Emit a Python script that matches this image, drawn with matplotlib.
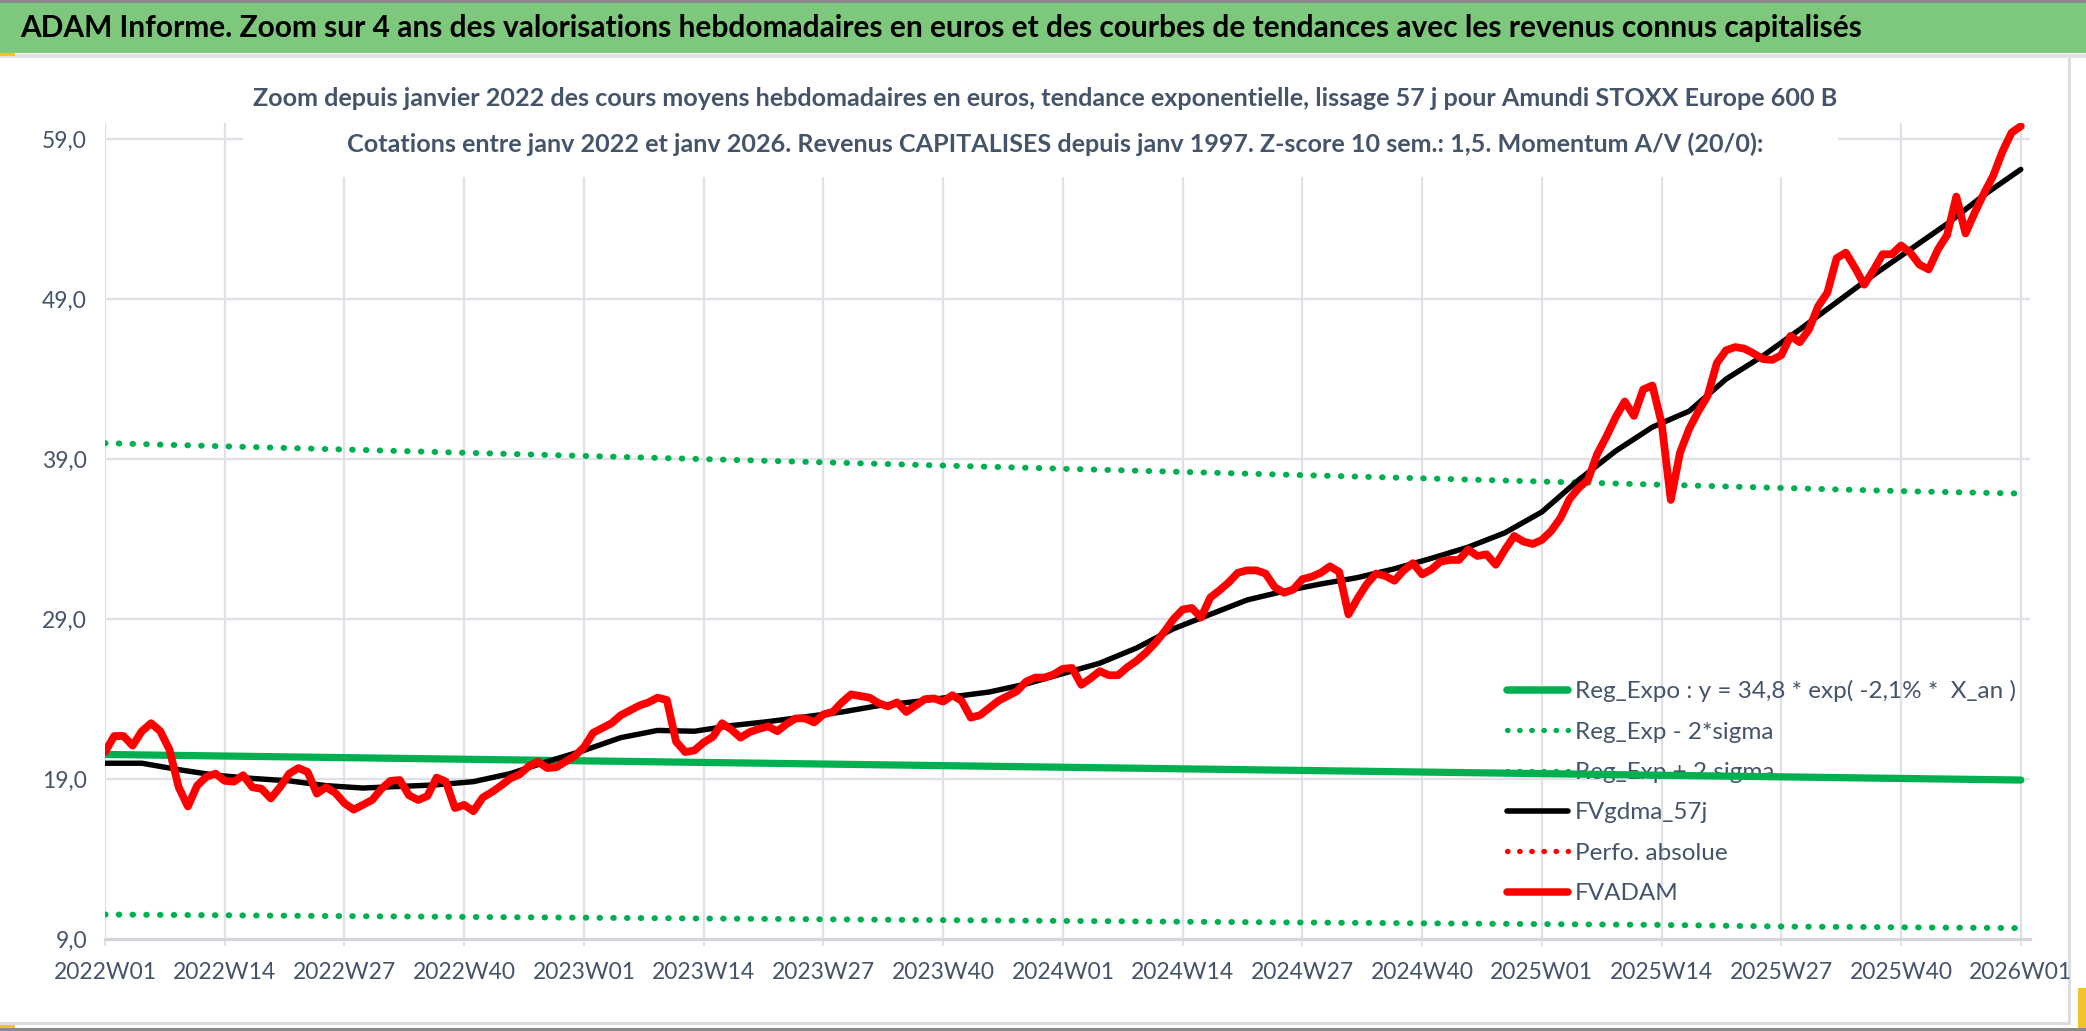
import matplotlib
matplotlib.use("Agg")
import matplotlib.pyplot as plt
from matplotlib.lines import Line2D
from matplotlib.patches import Rectangle
from matplotlib import font_manager as fm

# ---------------- data ----------------
tick_labels = ["2022W01", "2022W14", "2022W27", "2022W40", "2023W01", "2023W14",
               "2023W27", "2023W40", "2024W01", "2024W14", "2024W27", "2024W40",
               "2025W01", "2025W14", "2025W27", "2025W40", "2026W01"]
tick_weeks = [0, 13, 26, 39, 52, 65, 78, 91, 104, 117, 130, 143, 156, 169, 182, 195, 208]

y_ticks = [9, 19, 29, 39, 49, 59]

# FVADAM weekly values (2022W01 .. 2026W01)
fvadam = [
    20.7, 21.7, 21.7, 21.1, 22.0, 22.5, 22.0, 20.85, 18.5, 17.3,
    18.6, 19.15, 19.35, 18.9, 18.85, 19.25, 18.5, 18.4, 17.8, 18.5,
    19.35, 19.7, 19.45, 18.1, 18.5, 18.15, 17.5, 17.1, 17.4, 17.7,
    18.4, 18.9, 18.95, 18.0, 17.7, 17.95, 19.1, 18.85, 17.2, 17.4,
    17.0, 17.85, 18.2, 18.6, 19.05, 19.3, 19.8, 20.1, 19.7, 19.75,
    20.1, 20.45, 21.0, 21.9, 22.2, 22.5, 23.0, 23.3, 23.6, 23.8,
    24.1, 23.95, 21.35, 20.7, 20.8, 21.3, 21.65, 22.5, 22.1, 21.6,
    21.95, 22.15, 22.3, 22.0, 22.45, 22.8, 22.8, 22.55, 23.05, 23.2,
    23.8, 24.3, 24.2, 24.1, 23.75, 23.55, 23.8, 23.2, 23.6, 24.0,
    24.05, 23.85, 24.25, 23.9, 22.85, 23.0, 23.45, 23.9, 24.2, 24.5,
    25.1, 25.35, 25.35, 25.55, 25.9, 25.95, 24.9, 25.3, 25.75, 25.5,
    25.5, 26.0, 26.4, 26.9, 27.5, 28.2, 29.0, 29.6, 29.7, 29.1,
    30.35, 30.8, 31.3, 31.9, 32.05, 32.05, 31.85, 31.0, 30.65, 30.85,
    31.5, 31.65, 31.9, 32.3, 31.95, 29.3, 30.3, 31.2, 31.85, 31.7,
    31.4, 32.05, 32.5, 31.8, 32.1, 32.6, 32.7, 32.7, 33.35, 32.95,
    33.05, 32.4, 33.35, 34.2, 33.85, 33.7, 33.95, 34.5, 35.3, 36.5,
    37.2, 37.7, 39.3, 40.4, 41.6, 42.6, 41.7, 43.35, 43.6, 41.25,
    36.45, 39.4, 40.9, 42.0, 42.95, 45.0, 45.8, 46.0, 45.9, 45.6,
    45.25, 45.2, 45.5, 46.7, 46.3, 47.1, 48.55, 49.4, 51.55, 51.9,
    50.95, 49.9, 50.8, 51.8, 51.8, 52.35, 51.9, 51.15, 50.85, 52.1,
    53.0, 55.4, 53.1, 54.4, 55.6, 56.7, 58.2, 59.4, 59.8,
]
fvadam_weeks = list(range(len(fvadam)))

# FVgdma_57j (smoothed), read every 4 weeks
fvgdma_weeks = list(range(0, 209, 4))
fvgdma = [
    20.0, 20.0, 19.6, 19.25, 19.05, 18.9, 18.6, 18.45, 18.55, 18.65,
    18.85, 19.35, 20.1, 20.8, 21.6, 22.05, 22.0, 22.35, 22.6, 22.9,
    23.2, 23.6, 23.85, 24.15, 24.45, 24.95, 25.6, 26.25, 27.2, 28.4,
    29.3, 30.2, 30.75, 31.2, 31.6, 32.15, 32.8, 33.5, 34.4, 35.7,
    37.7, 39.5, 41.0, 42.0, 44.0, 45.45, 47.1, 48.8, 50.5, 52.1,
    53.7, 55.5, 57.1,
]

# Regression curves, read at the tick weeks
reg_weeks = tick_weeks
reg_expo = [20.55, 20.45, 20.35, 20.25, 20.15, 20.05, 19.95, 19.85, 19.75,
            19.65, 19.55, 19.45, 19.35, 19.25, 19.15, 19.05, 18.95]
reg_minus = [10.55, 10.5, 10.45, 10.4, 10.35, 10.3, 10.25, 10.2, 10.15,
             10.1, 10.05, 10.0, 9.95, 9.9, 9.8, 9.75, 9.7]
reg_plus = [40.0, 39.8, 39.6, 39.4, 39.2, 39.0, 38.8, 38.6, 38.4,
            38.2, 38.0, 37.8, 37.6, 37.4, 37.2, 37.0, 36.85]

legend_labels = ["Reg_Expo : y = 34,8 * exp( -2,1% *  X_an )",
                 "Reg_Exp - 2*sigma",
                 "Reg_Exp + 2 sigma",
                 "FVgdma_57j",
                 "Perfo. absolue",
                 "FVADAM"]

title = ("ADAM Informe. Zoom sur 4 ans des valorisations hebdomadaires en euros "
         "et des courbes de tendances avec les revenus connus capitalisés")
sub1 = ("Zoom depuis janvier 2022 des cours moyens hebdomadaires en euros, "
        "tendance exponentielle, lissage 57 j pour Amundi STOXX Europe 600 B")
sub2 = ("Cotations entre janv 2022 et janv 2026. Revenus CAPITALISES depuis "
        "janv 1997. Z-score 10 sem.: 1,5. Momentum A/V (20/0):")

# ---------------- style ----------------
names = {f.name for f in fm.fontManager.ttflist}
base = "Liberation Sans Narrow" if "Liberation Sans Narrow" in names else "Lato"
plt.rcParams["font.family"] = [base, "DejaVu Sans"]

GREEN = "#00B050"
RED = "#FF0000"
TXT = "#44546A"
GRID = "#DEE2E8"

W, H = 2086, 1031
fig = plt.figure(figsize=(W / 100, H / 100), dpi=100)
fig.patch.set_facecolor("white")


def fx(x):
    return x / W


def fy(y):
    return 1 - y / H


# decorations
fig.add_artist(Rectangle((0, fy(3)), 1, 3 / H, transform=fig.transFigure,
                         color="#8A8A8A", lw=0, zorder=0))
fig.add_artist(Rectangle((0, fy(53)), 1, 50 / H, transform=fig.transFigure,
                         color="#7DC87D", lw=0, zorder=0))
fig.add_artist(Rectangle((0, fy(58)), 1, 4 / H, transform=fig.transFigure,
                         color="#E2E4E8", lw=0, zorder=0))
fig.add_artist(Rectangle((0, fy(56)), 15 / W, 3 / H, transform=fig.transFigure,
                         color="#F2C12E", lw=0, zorder=1))
fig.add_artist(Rectangle((fx(2068), fy(1024)), 3 / W, (1024 - 58) / H,
                         transform=fig.transFigure, color="#DADCE0", lw=0, zorder=0))
fig.add_artist(Rectangle((0, fy(1025)), fx(2071), 3 / H, transform=fig.transFigure,
                         color="#DADCE0", lw=0, zorder=0))
fig.add_artist(Rectangle((0, 0), 1, 3 / H, transform=fig.transFigure,
                         color="#8A8A8A", lw=0, zorder=0))
fig.add_artist(Rectangle((0, fy(1028)), 15 / W, 3 / H, transform=fig.transFigure,
                         color="#F2C12E", lw=0, zorder=1))
fig.add_artist(Rectangle((fx(2078), fy(1028)), 8 / W, 40 / H, transform=fig.transFigure,
                         color="#F2C12E", lw=0, zorder=1))

# axes
ax = fig.add_axes([fx(105), fy(939.3), (2030 - 105) / W, (939.3 - 123) / H])
ax.set_xlim(0, 209)
ax.set_ylim(9, 60.0)
ax.set_axisbelow(True)
for s in ["top", "right", "left"]:
    ax.spines[s].set_visible(False)
ax.spines["bottom"].set_color("#D3D6DB")
ax.spines["bottom"].set_linewidth(2.2)
ax.set_xticks(tick_weeks, tick_labels)
ax.set_yticks(y_ticks, [f"{v:.1f}".replace(".", ",") for v in y_ticks])
ax.grid(True, color=GRID, lw=1.6)
ax.tick_params(axis="x", length=5, width=1.4, color=GRID, pad=11,
               labelsize=16.5, labelcolor=TXT)
ax.tick_params(axis="y", length=0, pad=13, labelsize=16.5, labelcolor=TXT)

dots = (0, (0.1, 2.2))
ax.plot(reg_weeks, reg_minus, color=GREEN, lw=4.3, linestyle=dots,
        dash_capstyle="round", zorder=3)
ax.plot(reg_weeks, reg_plus, color=GREEN, lw=4.3, linestyle=dots,
        dash_capstyle="round", zorder=3)
ax.plot(reg_weeks, reg_expo, color=GREEN, lw=5.2, solid_capstyle="round", zorder=3)
ax.plot(fvgdma_weeks, fvgdma, color="black", lw=3.9, solid_joinstyle="round",
        solid_capstyle="round", zorder=4)
ax.plot(fvadam_weeks, fvadam, color=RED, lw=5.6, solid_joinstyle="round",
        solid_capstyle="round", zorder=5)

handles = [
    Line2D([], [], color=GREEN, lw=5.4, solid_capstyle="round"),
    Line2D([], [], color=GREEN, lw=3.8, linestyle=dots, dash_capstyle="round"),
    Line2D([], [], color=GREEN, lw=3.8, linestyle=dots, dash_capstyle="round"),
    Line2D([], [], color="black", lw=4.0, solid_capstyle="round"),
    Line2D([], [], color=RED, lw=3.8, linestyle=dots, dash_capstyle="round"),
    Line2D([], [], color=RED, lw=5.4, solid_capstyle="round"),
]
leg = ax.legend(handles, legend_labels, loc="upper left",
                bbox_to_anchor=(fx(1507), fy(680)), bbox_transform=fig.transFigure,
                frameon=False, fontsize=17.5, handlelength=2.5, handletextpad=0.3,
                labelspacing=0.80, borderpad=0, borderaxespad=0, labelcolor=TXT)
leg.set_zorder(1)

# titles
t = fig.text(fx(20), fy(28), title, ha="left", va="center", fontsize=22,
             fontweight="bold", color="black", zorder=5)
fig.add_artist(Rectangle((fx(243), fy(177)), (1838 - 243) / W, (177 - 60) / H,
                         transform=fig.transFigure, color="white", lw=0, zorder=4))
s1 = fig.text(fx(1045), fy(99), sub1, ha="center", va="center", fontsize=18,
              fontweight="bold", color=TXT, zorder=5)
s2 = fig.text(fx(1055), fy(144), sub2, ha="center", va="center", fontsize=18,
              fontweight="bold", color=TXT, zorder=5)

# fit title widths
fig.canvas.draw()
r = fig.canvas.get_renderer()
wt = t.get_window_extent(r).width
t.set_fontsize(22 * 1838 / wt)
ws = s1.get_window_extent(r).width
fs = 18 * 1587 / ws
s1.set_fontsize(fs)
s2.set_fontsize(fs)

fig.savefig("out.png", dpi=100, facecolor="white")
